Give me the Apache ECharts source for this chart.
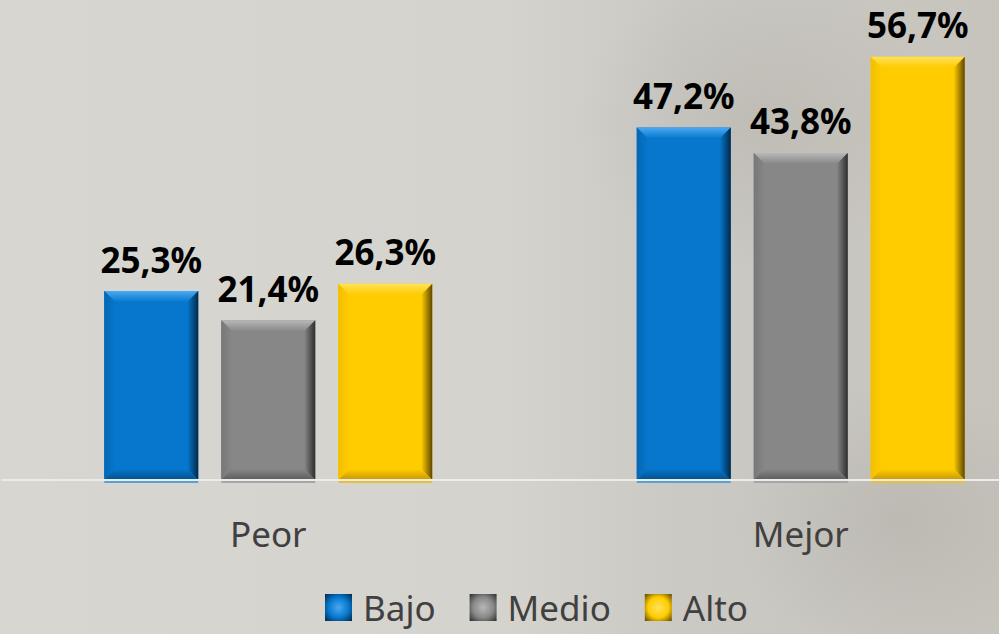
<!DOCTYPE html>
<html>
<head>
<meta charset="utf-8">
<script src="https://cdn.jsdelivr.net/npm/echarts@6/dist/echarts.min.js"></script>
<style>
  html, body { margin: 0; padding: 0; }
  #chart {
    width: 999px; height: 634px;
    background:
      radial-gradient(ellipse 260px 220px at 760px 120px, rgba(150,148,138,0.22), rgba(150,148,138,0) 70%),
      radial-gradient(ellipse 240px 200px at 900px 520px, rgba(140,138,130,0.20), rgba(140,138,130,0) 70%),
      linear-gradient(to right, #d7d6d1 0%, #d4d3ce 50%, #cbc9c3 68%, #c6c4bd 100%);
  }
</style>
</head>
<body>
<div id="chart"></div>
<script>
// Categories and values (percent)
const categories = ['Peor', 'Mejor'];
const seriesNames = ['Bajo', 'Medio', 'Alto'];
const bajo  = [25.3, 47.2];
const medio = [21.4, 43.8];
const alto  = [26.3, 56.7];
const seriesValues = [bajo, medio, alto];

// Bevel shading per level: base, top highlight, left, right shadow, bottom shadow, baseline glow
const palettes = [
  { base: '#0677cc', top: '#4aa9f2', left: '#0566b3', right: '#02294a', bottom: '#03508c', glow: '#5a9fd6' },
  { base: '#878787', top: '#b8b8b8', left: '#777777', right: '#2e2e2e', bottom: '#5c5c5c', glow: '#a6a6a6' },
  { base: '#ffcc00', top: '#ffe15a', left: '#f2bf00', right: '#5e4700', bottom: '#c89800', glow: '#e9be3a' }
];

const chart = echarts.init(document.getElementById('chart'), null, { renderer: 'svg' });
const G = echarts.graphic;

function fmt(v) { return v.toFixed(1).replace('.', ',') + '%'; }

function makeRender(idx) {
  const p = palettes[idx];
  return function (params, api) {
    const cat = api.value(0);
    const val = api.value(1);
    const top = api.coord([cat, val]);
    const base = api.coord([cat, 0]);
    const band = api.size([1, 0])[0];
    const barW = band * 94 / 532.5;
    const gap = band * 23 / 532.5;
    const cx = top[0] + (idx - 1) * (barW + gap);
    const x0 = cx - barW / 2, x1 = cx + barW / 2;
    const y0 = top[1], y1 = base[1];
    const b = Math.min(11, (y1 - y0) / 2);
    return {
      type: 'group',
      children: [
        { type: 'rect', shape: { x: x0, y: y1, width: barW, height: 3 }, style: { fill: p.glow } },
        { type: 'rect', shape: { x: x0, y: y0, width: barW, height: y1 - y0 }, style: { fill: p.base } },
        { type: 'polygon', shape: { points: [[x0, y0], [x1, y0], [x1 - b, y0 + b], [x0 + b, y0 + b]] },
          style: { fill: new G.LinearGradient(0, 0, 0, 1, [{ offset: 0, color: p.top }, { offset: 1, color: p.base }]) } },
        { type: 'polygon', shape: { points: [[x0, y0], [x0 + b, y0 + b], [x0 + b, y1 - b], [x0, y1]] },
          style: { fill: new G.LinearGradient(0, 0, 1, 0, [{ offset: 0, color: p.left }, { offset: 1, color: p.base }]) } },
        { type: 'polygon', shape: { points: [[x1, y0], [x1, y1], [x1 - b, y1 - b], [x1 - b, y0 + b]] },
          style: { fill: new G.LinearGradient(0, 0, 1, 0, [{ offset: 0, color: p.base }, { offset: 1, color: p.right }]) } },
        { type: 'polygon', shape: { points: [[x0, y1], [x0 + b, y1 - b], [x1 - b, y1 - b], [x1, y1]] },
          style: { fill: new G.LinearGradient(0, 0, 0, 1, [{ offset: 0, color: p.base }, { offset: 1, color: p.bottom }]) } },
        { type: 'text', style: {
            text: fmt(val), x: cx, y: y0 - 32,
            font: 'bold 35px "Noto Sans", "Open Sans", sans-serif', lineHeight: 36,
            fill: '#000000', align: 'center', verticalAlign: 'middle'
          } }
      ]
    };
  };
}

const series = seriesNames.map((name, idx) => ({
  name: name,
  type: 'custom',
  renderItem: makeRender(idx),
  itemStyle: { color: palettes[idx].base },
  encode: { x: 0, y: 1 },
  data: seriesValues[idx].map((v, i) => [i, v]),
  clip: false,
  z: 3
}));

chart.setOption({
  backgroundColor: 'transparent',
  animation: false,
  grid: { left: 2, top: 32, width: 1065, height: 448, containLabel: false, outerBoundsMode: 'none' },
  xAxis: {
    type: 'category',
    data: categories,
    axisLine: { lineStyle: { color: '#ececea', width: 2 } },
    axisTick: { show: false },
    axisLabel: { color: '#404040', fontSize: 35, fontFamily: '"Noto Sans", "Open Sans", sans-serif', margin: 36 },
    z: 5
  },
  yAxis: { type: 'value', min: 0, max: 60, show: false, splitLine: { show: false } },
  legend: {
    left: 320, top: 585,
    itemWidth: 27, itemHeight: 27, itemGap: 34,
    textStyle: { color: '#404040', fontSize: 35, fontFamily: '"Noto Sans", "Open Sans", sans-serif', padding: [0, 0, 0, 6] },
    data: seriesNames.map((n, idx) => ({
      name: n, icon: 'rect',
      itemStyle: { color: new G.RadialGradient(0.5, 0.5, 0.7, [
        { offset: 0, color: palettes[idx].top }, { offset: 0.55, color: palettes[idx].base }, { offset: 1, color: palettes[idx].right }]) }
    }))
  },
  series: series
});
</script>
</body>
</html>
